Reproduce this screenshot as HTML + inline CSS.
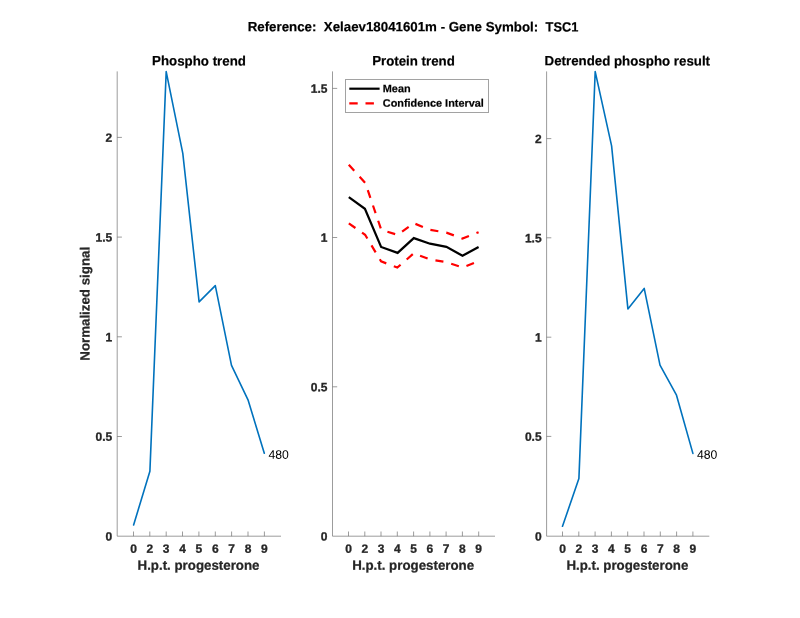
<!DOCTYPE html>
<html lang="en"><head><meta charset="utf-8"><title>Reference: Xelaev18041601m - Gene Symbol: TSC1</title>
<style>html,body{margin:0;padding:0;background:#fff}body{width:800px;height:618px;overflow:hidden}svg{display:block}text{font-family:"Liberation Sans", sans-serif;white-space:pre;font-kerning:none;text-rendering:geometricPrecision}.tk{font-size:12px;font-weight:bold;fill:#262626;stroke:#262626;stroke-width:.3px}.lb{font-size:13.3px;font-weight:bold;fill:#262626;stroke:#262626;stroke-width:.25px}.tt{font-size:13.3px;font-weight:bold;fill:#000;stroke:#000;stroke-width:.2px}.lg{font-size:10.9px;font-weight:bold;fill:#000;stroke:#000;stroke-width:.2px}.tx{font-size:12.2px;fill:#000}.ax{stroke:#6a6a6a;stroke-width:0.67;fill:none}</style></head><body>
<svg width="800" height="618" viewBox="0 0 800 618">
<rect width="800" height="618" fill="#fff"/>
<text class="tt" x="247.70" y="31.25" transform="rotate(0.03 247.70 31.25)" xml:space="preserve">Reference:  Xelaev18041601m - Gene Symbol:  <tspan textLength="32.8" lengthAdjust="spacingAndGlyphs">TSC1</tspan></text>
<g class="ax">
<path d="M117.2 71.4V536.2H281.0"/>
<path d="M133.5 536.2v-4.7M149.8 536.2v-4.7M166.2 536.2v-4.7M182.5 536.2v-4.7M198.9 536.2v-4.7M215.3 536.2v-4.7M231.6 536.2v-4.7M248.0 536.2v-4.7M264.4 536.2v-4.7M117.2 436.5h4.7M117.2 336.8h4.7M117.2 237.1h4.7M117.2 137.4h4.7"/>
</g>
<text class="tk" x="133.50" y="552.80" text-anchor="middle" transform="rotate(0.03 133.50 552.80)">0</text>
<text class="tk" x="149.80" y="552.80" text-anchor="middle" transform="rotate(0.03 149.80 552.80)">2</text>
<text class="tk" x="166.20" y="552.80" text-anchor="middle" transform="rotate(0.03 166.20 552.80)">3</text>
<text class="tk" x="182.50" y="552.80" text-anchor="middle" transform="rotate(0.03 182.50 552.80)">4</text>
<text class="tk" x="198.90" y="552.80" text-anchor="middle" transform="rotate(0.03 198.90 552.80)">5</text>
<text class="tk" x="215.30" y="552.80" text-anchor="middle" transform="rotate(0.03 215.30 552.80)">6</text>
<text class="tk" x="231.60" y="552.80" text-anchor="middle" transform="rotate(0.03 231.60 552.80)">7</text>
<text class="tk" x="248.00" y="552.80" text-anchor="middle" transform="rotate(0.03 248.00 552.80)">8</text>
<text class="tk" x="264.40" y="552.80" text-anchor="middle" transform="rotate(0.03 264.40 552.80)">9</text>
<text class="tk" x="112.20" y="540.55" text-anchor="end" transform="rotate(0.03 112.20 540.55)">0</text>
<text class="tk" x="112.20" y="440.85" text-anchor="end" transform="rotate(0.03 112.20 440.85)">0.5</text>
<text class="tk" x="112.20" y="341.15" text-anchor="end" transform="rotate(0.03 112.20 341.15)">1</text>
<text class="tk" x="112.20" y="241.45" text-anchor="end" transform="rotate(0.03 112.20 241.45)">1.5</text>
<text class="tk" x="112.20" y="141.75" text-anchor="end" transform="rotate(0.03 112.20 141.75)">2</text>
<text class="tt" x="199.00" y="65.40" text-anchor="middle" transform="rotate(0.03 199.00 65.40)">Phospho trend</text>
<text class="lb" x="198.50" y="569.80" text-anchor="middle" transform="rotate(0.03 198.50 569.80)">H.p.t. progesterone</text>
<g class="ax">
<path d="M332.5 71.4V536.2H495.0"/>
<path d="M348.5 536.2v-4.7M364.8 536.2v-4.7M381.0 536.2v-4.7M397.3 536.2v-4.7M413.6 536.2v-4.7M429.9 536.2v-4.7M446.1 536.2v-4.7M462.4 536.2v-4.7M478.7 536.2v-4.7M332.5 386.8h4.7M332.5 237.5h4.7M332.5 88.4h4.7"/>
</g>
<text class="tk" x="348.50" y="552.80" text-anchor="middle" transform="rotate(0.03 348.50 552.80)">0</text>
<text class="tk" x="364.80" y="552.80" text-anchor="middle" transform="rotate(0.03 364.80 552.80)">2</text>
<text class="tk" x="381.00" y="552.80" text-anchor="middle" transform="rotate(0.03 381.00 552.80)">3</text>
<text class="tk" x="397.30" y="552.80" text-anchor="middle" transform="rotate(0.03 397.30 552.80)">4</text>
<text class="tk" x="413.60" y="552.80" text-anchor="middle" transform="rotate(0.03 413.60 552.80)">5</text>
<text class="tk" x="429.90" y="552.80" text-anchor="middle" transform="rotate(0.03 429.90 552.80)">6</text>
<text class="tk" x="446.10" y="552.80" text-anchor="middle" transform="rotate(0.03 446.10 552.80)">7</text>
<text class="tk" x="462.40" y="552.80" text-anchor="middle" transform="rotate(0.03 462.40 552.80)">8</text>
<text class="tk" x="478.70" y="552.80" text-anchor="middle" transform="rotate(0.03 478.70 552.80)">9</text>
<text class="tk" x="327.50" y="540.55" text-anchor="end" transform="rotate(0.03 327.50 540.55)">0</text>
<text class="tk" x="327.50" y="391.15" text-anchor="end" transform="rotate(0.03 327.50 391.15)">0.5</text>
<text class="tk" x="327.50" y="241.85" text-anchor="end" transform="rotate(0.03 327.50 241.85)">1</text>
<text class="tk" x="327.50" y="92.75" text-anchor="end" transform="rotate(0.03 327.50 92.75)">1.5</text>
<text class="tt" x="413.50" y="65.40" text-anchor="middle" transform="rotate(0.03 413.50 65.40)">Protein trend</text>
<text class="lb" x="413.15" y="569.80" text-anchor="middle" transform="rotate(0.03 413.15 569.80)">H.p.t. progesterone</text>
<g class="ax">
<path d="M546.6 71.4V536.2H709.3"/>
<path d="M562.5 536.2v-4.7M578.8 536.2v-4.7M595.1 536.2v-4.7M611.4 536.2v-4.7M627.7 536.2v-4.7M644.0 536.2v-4.7M660.3 536.2v-4.7M676.6 536.2v-4.7M692.9 536.2v-4.7M546.6 436.4h4.7M546.6 337.2h4.7M546.6 237.8h4.7M546.6 138.6h4.7"/>
</g>
<text class="tk" x="562.50" y="552.80" text-anchor="middle" transform="rotate(0.03 562.50 552.80)">0</text>
<text class="tk" x="578.80" y="552.80" text-anchor="middle" transform="rotate(0.03 578.80 552.80)">2</text>
<text class="tk" x="595.10" y="552.80" text-anchor="middle" transform="rotate(0.03 595.10 552.80)">3</text>
<text class="tk" x="611.40" y="552.80" text-anchor="middle" transform="rotate(0.03 611.40 552.80)">4</text>
<text class="tk" x="627.70" y="552.80" text-anchor="middle" transform="rotate(0.03 627.70 552.80)">5</text>
<text class="tk" x="644.00" y="552.80" text-anchor="middle" transform="rotate(0.03 644.00 552.80)">6</text>
<text class="tk" x="660.30" y="552.80" text-anchor="middle" transform="rotate(0.03 660.30 552.80)">7</text>
<text class="tk" x="676.60" y="552.80" text-anchor="middle" transform="rotate(0.03 676.60 552.80)">8</text>
<text class="tk" x="692.90" y="552.80" text-anchor="middle" transform="rotate(0.03 692.90 552.80)">9</text>
<text class="tk" x="541.60" y="540.55" text-anchor="end" transform="rotate(0.03 541.60 540.55)">0</text>
<text class="tk" x="541.60" y="440.75" text-anchor="end" transform="rotate(0.03 541.60 440.75)">0.5</text>
<text class="tk" x="541.60" y="341.55" text-anchor="end" transform="rotate(0.03 541.60 341.55)">1</text>
<text class="tk" x="541.60" y="242.15" text-anchor="end" transform="rotate(0.03 541.60 242.15)">1.5</text>
<text class="tk" x="541.60" y="142.95" text-anchor="end" transform="rotate(0.03 541.60 142.95)">2</text>
<text class="tt" x="627.30" y="65.40" text-anchor="middle" transform="rotate(0.03 627.30 65.40)">Detrended phospho result</text>
<text class="lb" x="627.35" y="569.80" text-anchor="middle" transform="rotate(0.03 627.35 569.80)">H.p.t. progesterone</text>
<text class="lb" transform="translate(89.45 303.8) rotate(-90.03)" text-anchor="middle">Normalized signal</text>
<polyline points="133.6,525.0 149.9,471.3 166.2,71.6 182.8,153.4 199.1,301.9 215.3,285.6 231.5,365.4 248.0,399.8 264.3,453.2" fill="none" stroke="#0072BD" stroke-width="1.6" stroke-linejoin="round" stroke-linecap="round"/>
<polyline points="562.5,526.3 578.9,478.6 595.2,71.6 611.6,145.8 627.9,308.9 644.2,288.4 660.0,365.1 676.5,395.2 692.9,453.4" fill="none" stroke="#0072BD" stroke-width="1.6" stroke-linejoin="round" stroke-linecap="round"/>
<text class="tx" x="268.55" y="458.65" transform="rotate(0.03 268.55 458.65)">480</text>
<text class="tx" x="697.00" y="458.65" transform="rotate(0.03 697.00 458.65)">480</text>
<polyline points="348.8,197.1 364.9,208.8 381.1,247.0 397.6,252.9 413.8,238.1 430.0,243.7 446.4,246.9 462.5,255.8 478.6,247.0" fill="none" stroke="#000" stroke-width="2.2" stroke-linejoin="miter"/>
<polyline points="348.8,164.7 365.3,182.9 381.3,230.0 397.6,234.8 413.8,223.2 430.0,229.8 446.4,232.6 462.5,238.6 478.6,232.2" fill="none" stroke="#f00" stroke-width="2.2" stroke-dasharray="8.07 8.07" stroke-linejoin="miter"/>
<polyline points="348.8,223.4 365.1,234.8 381.1,261.4 397.3,267.6 413.8,253.3 430.0,259.5 446.4,262.2 462.5,267.5 478.6,261.2" fill="none" stroke="#f00" stroke-width="2.2" stroke-dasharray="8.07 8.07" stroke-linejoin="miter"/>
<rect x="345.5" y="79.5" width="143" height="33" fill="#fff" stroke="#a2a2a2" stroke-width="1"/>
<path d="M349.3 88.7H379.6" stroke="#000" stroke-width="2.2"/>
<path d="M349.3 103.3H379.6" stroke="#f00" stroke-width="2.2" stroke-dasharray="8.4 7.8"/>
<text class="lg" x="382.80" y="92.30" transform="rotate(0.03 382.80 92.30)">Mean</text>
<text class="lg" x="382.80" y="106.80" transform="rotate(0.03 382.80 106.80)">Confidence Interval</text>
</svg></body></html>
